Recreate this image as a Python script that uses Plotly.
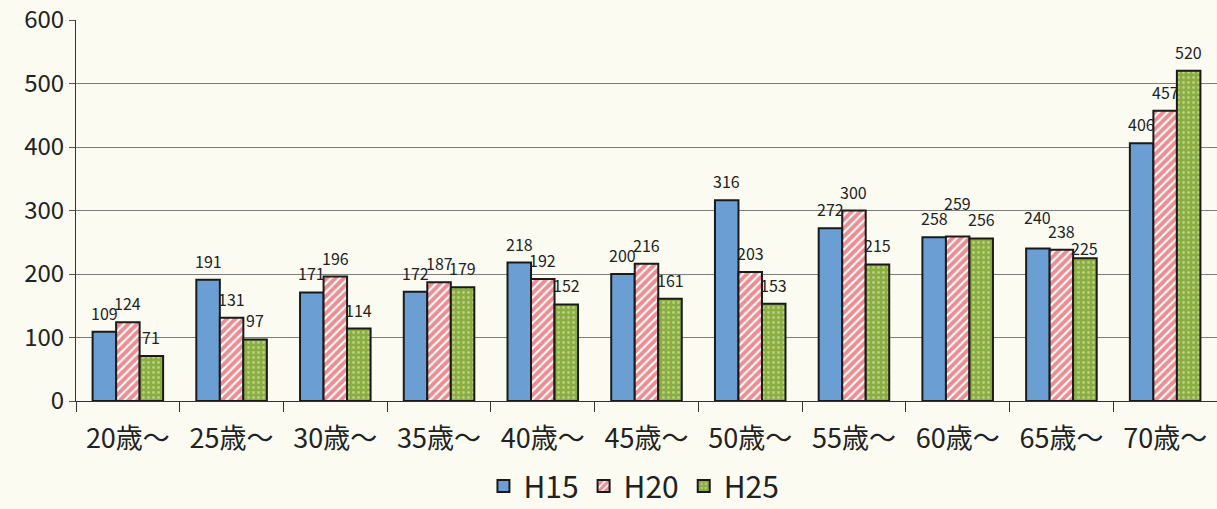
import plotly.graph_objects as go

# データ
categories = ['20歳～', '25歳～', '30歳～', '35歳～', '40歳～', '45歳～',
              '50歳～', '55歳～', '60歳～', '65歳～', '70歳～']
h15 = [109, 191, 171, 172, 218, 200, 316, 272, 258, 240, 406]
h20 = [124, 131, 196, 187, 192, 216, 203, 300, 259, 238, 457]
h25 = [71, 97, 114, 179, 152, 161, 153, 215, 256, 225, 520]

# ラベルの重なり回避（Excel風の上下ずらし, px）
label_lift = {('60歳～', 'H20'): 15, ('65歳～', 'H15'): 13, ('65歳～', 'H25'): -9}

font_family = 'Noto Sans CJK JP, Open Sans, sans-serif'
W, H = 1217, 509
M = dict(l=76, r=0, t=20, b=108)
BARGAP = 0.32

fig = go.Figure()

series = [
    ('H15', h15, dict(color='#6b9fd3', pattern=dict(shape=''))),
    ('H20', h20, dict(color='#ffffff',
                      pattern=dict(shape='/', fgcolor='#dc1a24', bgcolor='#ffffff',
                                   size=6, solidity=0.65, fillmode='overlay'))),
    ('H25', h25, dict(color='#8bae42',
                      pattern=dict(shape='.', fgcolor='#e8efc0', bgcolor='#8bae42',
                                   size=5, solidity=0.25, fillmode='overlay'))),
]

# 棒の幅（px）からラベルの横位置を求める
cat_px = (W - M['l'] - M['r']) / len(categories)
bar_px = cat_px * (1 - BARGAP) / len(series)

annotations = []
for i, (name, vals, mk) in enumerate(series):
    fig.add_trace(go.Bar(
        x=categories, y=vals, name=name,
        marker=dict(line=dict(color='#1a1a1a', width=2), **mk),
    ))
    for c, v in zip(categories, vals):
        annotations.append(dict(
            x=c, y=v, xref='x', yref='y', text=str(v), showarrow=False,
            xshift=(i - 1) * bar_px, yshift=19 + label_lift.get((c, name), 0),
            yanchor='middle', xanchor='center',
            font=dict(size=16, color='#222222', family=font_family),
        ))

fig.update_layout(
    width=W, height=H,
    barmode='group', bargap=BARGAP, bargroupgap=0,
    paper_bgcolor='#fbfbf2', plot_bgcolor='#fbfbf2',
    margin=dict(**M, autoexpand=False),
    font=dict(family=font_family, color='#222222'),
    xaxis=dict(
        showline=True, linecolor='#333333', linewidth=1,
        ticks='outside', tickson='boundaries', ticklen=10, tickcolor='#333333',
        tickfont=dict(size=27), showgrid=False, ticklabelstandoff=14,
        automargin=False,
    ),
    yaxis=dict(
        range=[0, 600], dtick=100,
        showline=True, linecolor='#333333', linewidth=1,
        ticks='outside', ticklen=6, tickcolor='#555555',
        gridcolor='#7d7d7d', gridwidth=1,
        tickfont=dict(size=24), zeroline=False, automargin=False,
    ),
    legend=dict(
        orientation='h', x=0.489, xanchor='center',
        yref='container', y=0.045, yanchor='middle',
        font=dict(size=30), bgcolor='rgba(0,0,0,0)',
    ),
    annotations=annotations,
    showlegend=True,
)

fig.write_html('out.html', config={'displayModeBar': False},
               post_script="document.body.style.margin='0';"
                           "document.body.style.background='#fbfbf2';")
